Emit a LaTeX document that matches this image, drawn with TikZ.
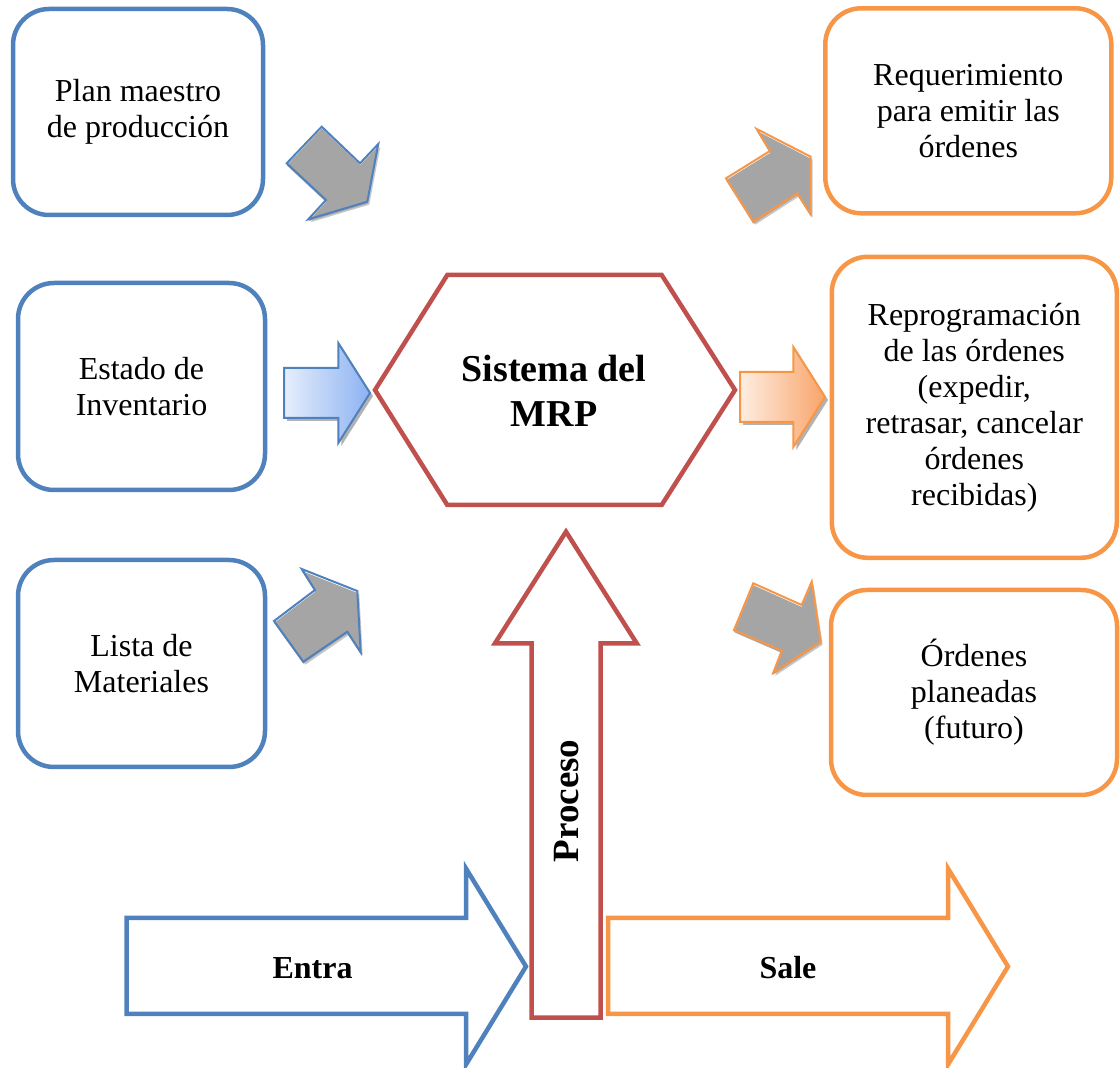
\documentclass[tikz,border=0pt]{standalone}
\usepackage{fontspec}
\setmainfont{Liberation Serif}

\definecolor{ofblue}{HTML}{4F81BD}
\definecolor{oforange}{HTML}{F79646}
\definecolor{ofred}{HTML}{C0504D}
\definecolor{arrowgray}{HTML}{A5A5A5}
\definecolor{lightblue}{HTML}{E6EEFC}
\definecolor{midblue}{HTML}{8DB2F2}
\definecolor{lightorange}{HTML}{FEEEE2}
\definecolor{midorange}{HTML}{F9A46A}

% small gray block arrow: shadow, fill, outline
\newcommand{\grayarrow}[2]{%
  \fill[black!22, shift={(2,3)}] #2 -- cycle;
  \fill[arrowgray, shift={(0,2)}] #2 -- cycle;
  \draw[#1, line width=1pt, line join=miter] #2 -- cycle;}

\begin{document}
\begin{tikzpicture}[x=0.5pt, y=-0.5pt,
    every node/.style={font=\fontsize{16}{18}\selectfont, align=center},
    inbox/.style={draw=ofblue, line width=2.25pt, rounded corners=18pt,
      minimum width=123.5pt, minimum height=103.5pt},
    outbox/.style={draw=oforange, line width=2.25pt, rounded corners=18pt,
      minimum width=143pt, minimum height=102.5pt},
    bigarrow/.style={line width=2.25pt, fill=white, line join=miter},
    boldtext/.style={font=\fontsize{19}{22.5}\selectfont\bfseries}]
  \useasboundingbox (0,0) rectangle (1120,1068);

  % entradas
  \node[inbox, minimum width=125pt, minimum height=103pt] (plan) at (138,112) {Plan maestro\\de producción};
  \node[inbox] (estado) at (141.5,386.5) {Estado de\\Inventario};
  \node[inbox] (lista) at (141.5,663.5) {Lista de\\Materiales};

  % salidas
  \node[outbox] (req) at (968.3,110.8) {Requerimiento\\para emitir las\\órdenes};
  \node[outbox, minimum width=142.5pt, minimum height=150.5pt] (reprog) at (974.3,407.3)
    {Reprogramación\\de las órdenes\\(expedir,\\retrasar, cancelar\\órdenes\\recibidas)};
  \node[outbox] (planeadas) at (974,692.5) {Órdenes\\planeadas\\(futuro)};

  % sistema
  \draw[ofred, line width=2.25pt] (375,390) -- (447.3,275) -- (661.7,275) -- (735,390)
    -- (661.7,505) -- (447.3,505) -- cycle;
  \node[boldtext] (mrp) at (554,391) {Sistema del\\MRP};

  % flechas grises
  \grayarrow{ofblue}{(286.7,163.3) -- (321.7,126.7) -- (360,163.3) -- (378.3,144) -- (367.3,201.7) -- (308.3,219.3) -- (326,200)}
  \grayarrow{ofblue}{(274,621) -- (315,590) -- (301.7,569) -- (357.3,591) -- (360.7,652.3) -- (347.3,631.7) -- (303.3,661.7)}
  \grayarrow{oforange}{(726,178.3) -- (770,151) -- (756.7,129) -- (810.7,156.7) -- (810.7,214.3) -- (797.3,193.3) -- (753.3,221.7)}
  \grayarrow{oforange}{(753.3,583.3) -- (801.7,605) -- (811.7,581.7) -- (820.7,641.7) -- (773.3,672.7) -- (781.7,650.7) -- (734,630)}

  % flechas con degradado
  \fill[black!30, shift={(3,3)}] (284,368) -- (338.3,368) -- (338.3,343) -- (370,393) -- (338.3,443) -- (338.3,418) -- (284,418) -- cycle;
  \draw[ofblue, line width=1pt, line join=miter, left color=lightblue, right color=midblue]
    (284,368) -- (338.3,368) -- (338.3,343) -- (370,393) -- (338.3,443) -- (338.3,418) -- (284,418) -- cycle;
  \fill[black!30, shift={(3,3)}] (740,372) -- (793.3,372) -- (793.3,347) -- (825,397) -- (793.3,447) -- (793.3,422) -- (740,422) -- cycle;
  \draw[oforange, line width=1pt, line join=miter, left color=lightorange, right color=midorange]
    (740,372) -- (793.3,372) -- (793.3,347) -- (825,397) -- (793.3,447) -- (793.3,422) -- (740,422) -- cycle;

  % flechas grandes
  \draw[bigarrow, draw=ofblue] (126.7,918) -- (466,918) -- (466,868.5) -- (526,966.5)
    -- (466,1064.5) -- (466,1014) -- (126.7,1014) -- cycle;
  \draw[bigarrow, draw=oforange] (608,918) -- (948,918) -- (948,868.5) -- (1008,966.5)
    -- (948,1064.5) -- (948,1014) -- (608,1014) -- cycle;
  \draw[bigarrow, draw=ofred] (531.7,1017.7) -- (531.7,643.3) -- (495,643.3) -- (566,531.7)
    -- (636.7,643.3) -- (600.7,643.3) -- (600.7,1017.7) -- cycle;
  \node[font=\fontsize{16}{18}\selectfont\bfseries, anchor=base] (entra) at (312.5,979) {Entra};
  \node[font=\fontsize{16}{18}\selectfont\bfseries, anchor=base] (sale) at (788,979) {Sale};
  \node[font=\fontsize{18.5}{22}\selectfont\bfseries, rotate=90, anchor=base] (proceso) at (578.7,801) {Proceso};
\end{tikzpicture}
\end{document}
